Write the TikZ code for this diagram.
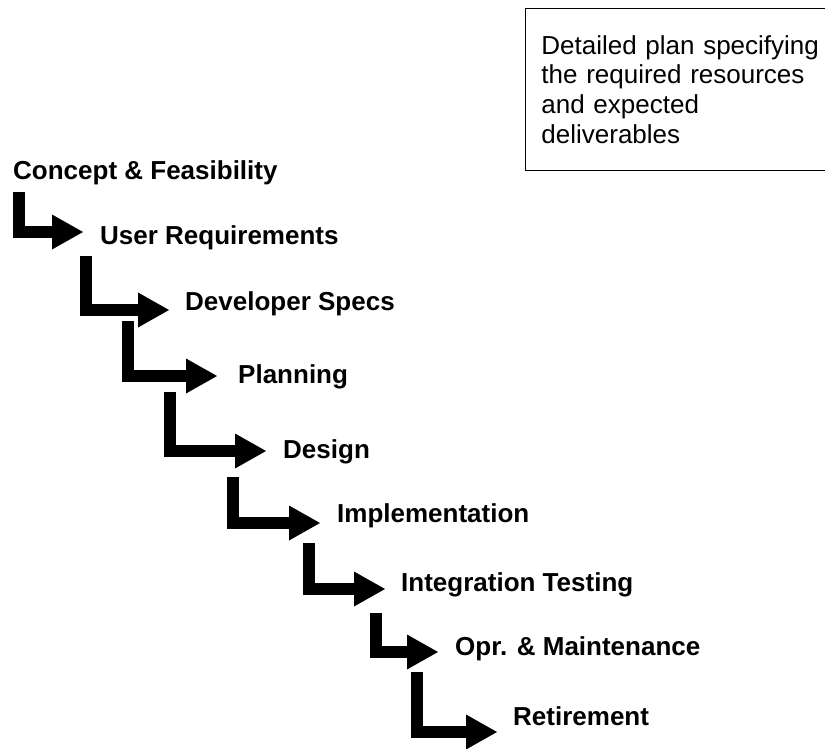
\documentclass[tikz,border=0pt]{standalone}
\usepackage{fontspec}
\setmainfont{Liberation Sans}
\usetikzlibrary{arrows.meta}
\tikzset{
  stage/.style={font=\fontsize{26}{30}\selectfont\bfseries, anchor=base west, inner sep=0pt},
  stairarrow/.style={line width=12pt, -{Triangle[length=31pt,width=35pt,line width=0pt]}},
  notebox/.style={draw, line width=0.9pt, anchor=north west, text width=320pt, inner xsep=16pt, inner ysep=0pt,
    minimum height=162pt, align=left, font=\fontsize{26}{29.6}\selectfont}
}
\begin{document}
\begin{tikzpicture}[x=1pt,y=-1pt]
\useasboundingbox (0,0) rectangle (825,749);
\node[notebox] (note) at (525,8) {Detailed plan specifying\\the required resources\\and expected\\deliverables};

\node[stage] (concept) at (13,179) {Concept \& Feasibility};
\node[stage] (userreq) at (100,244) {User Requirements};
\node[stage] (devspecs) at (185,310) {Developer Specs};
\node[stage] (planning) at (238,383) {Planning};
\node[stage] (design) at (283,458) {Design};
\node[stage] (implement) at (337,522) {Implementation};
\node[stage] (integration) at (401,591) {Integration Testing};
\node[stage] (operation) at (455,655) {Opr. \& Maintenance};
\node[stage] (retire) at (513,725) {Retirement};

\foreach \sx/\sy/\tx/\ty [count=\i] in {19/192/83/232, 86/256/169/310, 128/321/217/376, 170/392/266/451,
    233/477/320/523, 309/543/385/589, 376/613/438/652, 417/672/497/732}{
  \coordinate (s\i) at (\sx,\sy);
  \coordinate (t\i) at (\tx,\ty);
  \draw[stairarrow] (s\i) |- (t\i);
}
\end{tikzpicture}
\end{document}
